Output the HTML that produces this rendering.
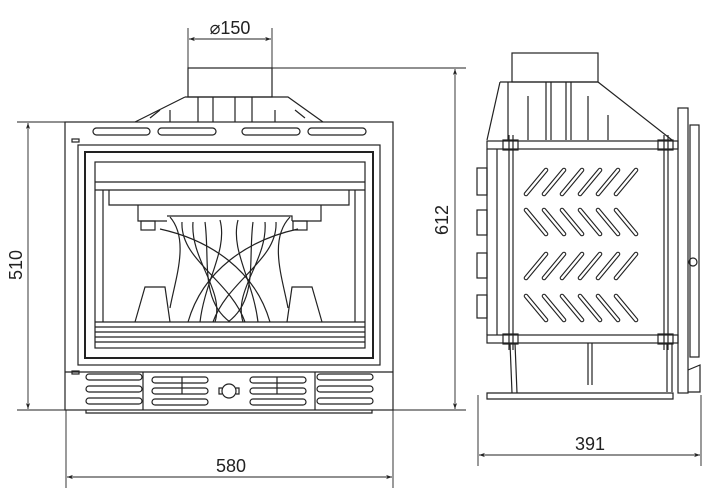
<!DOCTYPE html>
<html><head><meta charset="utf-8"><style>
html,body{margin:0;padding:0;background:#fff}
svg{display:block}
text{font-family:"Liberation Sans","DejaVu Sans",sans-serif;fill:#222}
</style></head><body>
<svg width="708" height="490" viewBox="0 0 708 490" xmlns="http://www.w3.org/2000/svg">
<defs>
<marker id="a" viewBox="0 0 10 10" refX="10" refY="5" markerWidth="10" markerHeight="6" orient="auto-start-reverse" markerUnits="userSpaceOnUse"><path d="M0,1.5 L10,5 L0,8.5 L3,5z" fill="#222"/></marker>
</defs>
<g fill="none" stroke="#222" stroke-width="1.2">
<rect x="188" y="68" width="84" height="29"/>
<path d="M185,97 H288 L323,122 M185,97 L135,122"/>
<path d="M198,97 V122 M213,97 V122 M235,97 V122 M252,97 V122 M170,110 V122 M275,110 V122 M150,118 L160,110 M305,118 L295,110"/>
<rect x="65" y="122" width="328" height="288"/>
<rect x="93" y="128" width="57" height="7" rx="3.5"/>
<rect x="158" y="128" width="58" height="7" rx="3.5"/>
<rect x="242" y="128" width="58" height="7" rx="3.5"/>
<rect x="308" y="128" width="58" height="7" rx="3.5"/>
<rect x="72" y="139" width="7" height="3"/>
<rect x="72" y="371" width="7" height="3"/>
<rect x="78" y="145" width="302" height="220"/>
<rect x="85" y="152" width="288" height="206" stroke-width="2"/>
<rect x="95" y="162" width="270" height="186"/>
<path d="M95,182 H365 M95,190 H365"/>
<path d="M103,190 V322 M355,190 V322 M109,190 V205 H349 V190"/>
<path d="M138,205 V221 H167 M321,205 V221 H292"/>
<rect x="141" y="221" width="14" height="9"/>
<rect x="293" y="221" width="14" height="9"/>
<path d="M167,216 H292 V221"/>
<path d="M95,322 H365 M95,327 H365 M95,332 H365 M95,337 H365 M95,342 H365"/>
<path d="M135,322 L145,287 H165 L170,322 M287,322 L292,287 H312 L322,322"/>
<path d="M170,217 C190,240 175,280 170,308"/>
<path d="M290,217 C268,240 283,280 288,308"/>
<path d="M160,229 C210,240 255,270 270,322"/>
<path d="M298,229 C248,240 203,270 188,322"/>
<path d="M182,222 C180,260 230,280 245,322"/>
<path d="M276,222 C278,260 228,280 213,322"/>
<path d="M193,222 C190,260 225,290 215,322"/>
<path d="M265,222 C268,260 233,290 243,322"/>
<path d="M205,222 C210,260 200,300 230,322"/>
<path d="M253,222 C248,260 258,300 228,322"/>
<path d="M220,220 C228,250 205,280 200,322"/>
<path d="M238,220 C230,250 253,280 258,322"/>
<path d="M65,372 H393 M143,372 V410 M315,372 V410 M86,410 V413 H372 V410"/>
<g>
<rect x="86" y="374" width="56" height="6" rx="3"/><rect x="86" y="386" width="56" height="6" rx="3"/><rect x="86" y="398" width="56" height="6" rx="3"/>
<rect x="317" y="374" width="56" height="6" rx="3"/><rect x="317" y="386" width="56" height="6" rx="3"/><rect x="317" y="398" width="56" height="6" rx="3"/>
<rect x="152" y="377" width="56" height="6" rx="3"/><rect x="152" y="388" width="56" height="6" rx="3"/><rect x="152" y="399" width="56" height="6" rx="3"/>
<rect x="250" y="377" width="56" height="6" rx="3"/><rect x="250" y="388" width="56" height="6" rx="3"/><rect x="250" y="399" width="56" height="6" rx="3"/>
<path d="M182,377 V394 M277,377 V394"/>
<circle cx="229" cy="391" r="7"/><path d="M222,388 H219 V394 H222 M236,388 H239 V394 H236"/>
</g>
<rect x="512" y="53" width="86" height="29"/>
<path d="M500,82 H598 L672,140 M500,82 L487,140 M508,82 V140"/>
<path d="M546,82 V140 M551,82 V140 M566,82 V140 M571,82 V140 M528,96 V140 M588,96 V140 M608,115 V140"/>
<rect x="487" y="141" width="191" height="8"/>
<rect x="487" y="335" width="191" height="8"/>
<path d="M487,149 V335 M497,149 V335 M509,135 V350 M513,135 V350 M664,135 V350 M668,135 V350"/>
<rect x="503" y="140" width="15" height="10"/><rect x="658" y="140" width="15" height="10"/>
<rect x="503" y="334" width="15" height="10"/><rect x="658" y="334" width="15" height="10"/>
<rect x="678" y="108" width="10" height="285"/>
<rect x="690" y="125" width="9" height="232"/>
<circle cx="693" cy="262" r="4"/>
<rect x="477" y="168" width="10" height="27"/><rect x="477" y="210" width="10" height="25"/><rect x="477" y="253" width="10" height="25"/><rect x="477" y="295" width="10" height="23"/>
<path d="M510,343 L512,393 M515,343 L517,393 M588,343 V385 M592,343 V385 M667,343 V392 M672,343 V392 M688,370 L700,365 V392 H688"/>
<path d="M487,393 H673 V399 H487 Z"/>
</g>
<g id="sl" stroke="#222" stroke-width="4.6" stroke-linecap="round" fill="none">
<path d="M526,194 L546,170 M544,194 L564,170 M562,194 L582,170 M580,194 L600,170 M598,194 L618,170 M616,194 L636,170 M526,278 L546,254 M544,278 L564,254 M562,278 L582,254 M580,278 L600,254 M598,278 L618,254 M616,278 L636,254 M526,210 L546,234 M544,210 L564,234 M562,210 L582,234 M580,210 L600,234 M598,210 L618,234 M616,210 L636,234 M526,296 L546,320 M544,296 L564,320 M562,296 L582,320 M580,296 L600,320 M598,296 L618,320 M616,296 L636,320"/></g>
<g stroke="#fff" stroke-width="2.4" stroke-linecap="round" fill="none">
<path d="M526,194 L546,170 M544,194 L564,170 M562,194 L582,170 M580,194 L600,170 M598,194 L618,170 M616,194 L636,170 M526,278 L546,254 M544,278 L564,254 M562,278 L582,254 M580,278 L600,254 M598,278 L618,254 M616,278 L636,254 M526,210 L546,234 M544,210 L564,234 M562,210 L582,234 M580,210 L600,234 M598,210 L618,234 M616,210 L636,234 M526,296 L546,320 M544,296 L564,320 M562,296 L582,320 M580,296 L600,320 M598,296 L618,320 M616,296 L636,320"/></g>
<g fill="none" stroke="#222" stroke-width="0.9">
<path d="M188,28 V68 M272,28 V68"/>
<path d="M189,39 H271" marker-start="url(#a)" marker-end="url(#a)"/>
<path d="M272,68 H466 M373,410 H466"/>
<path d="M455,69 V409" marker-start="url(#a)" marker-end="url(#a)"/>
<path d="M17,122 H65 M17,410 H65"/>
<path d="M28,123 V409" marker-start="url(#a)" marker-end="url(#a)"/>
<path d="M66,410 V488 M393,410 V488"/>
<path d="M67,477 H392" marker-start="url(#a)" marker-end="url(#a)"/>
<path d="M478,395 V466 M701,395 V466"/>
<path d="M479,455 H700" marker-start="url(#a)" marker-end="url(#a)"/>
</g>
<text x="230" y="34" font-size="18" text-anchor="middle">⌀150</text>
<text x="231" y="472" font-size="18" text-anchor="middle">580</text>
<text x="590" y="450" font-size="18" text-anchor="middle">391</text>
<text transform="translate(22,265) rotate(-90)" font-size="18" text-anchor="middle">510</text>
<text transform="translate(448,220) rotate(-90)" font-size="18" text-anchor="middle">612</text>
</svg>
</body></html>
